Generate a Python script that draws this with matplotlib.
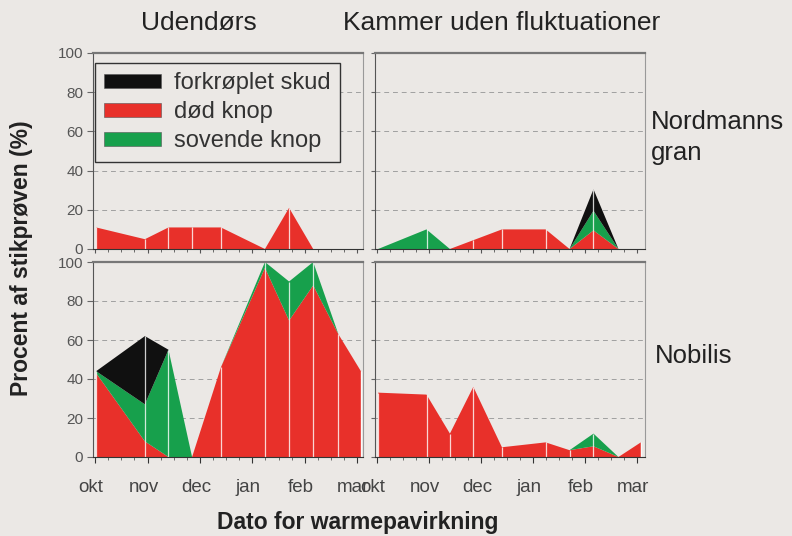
import matplotlib
matplotlib.use("Agg")
import matplotlib.pyplot as plt
from matplotlib.patches import Patch
from matplotlib.ticker import MultipleLocator
from matplotlib.transforms import ScaledTranslation
import numpy as np

# dato for varmepåvirkning, i måneder efter 1. oktober
dates = [0.02, 0.95, 1.40, 1.85, 2.40, 3.24, 3.70, 4.16, 4.64, 5.07]
months = ["okt", "nov", "dec", "jan", "feb", "mar"]

# Udendørs, Nordmannsgran
ude_nord_dod = [11, 5, 11, 11, 11, 0, 21, 0, 0, 0]
ude_nord_sov = [0, 0, 0, 0, 0, 0, 0, 0, 0, 0]
ude_nord_fork = [0, 0, 0, 0, 0, 0, 0, 0, 0, 0]
# Udendørs, Nobilis
ude_nob_dod = [43, 8, 0, 0, 46, 97, 70, 88, 63, 44]
ude_nob_sov = [1, 19, 55, 0, 0, 3, 20, 12, 0, 0]
ude_nob_fork = [0, 35, 0, 0, 0, 0, 0, 0, 0, 0]
# Kammer uden fluktuationer, Nordmannsgran
kam_nord_dod = [0, 0, 0, 4.5, 10, 10, 0, 9.5, 0, 0]
kam_nord_sov = [0, 10, 0, 0, 0, 0, 0, 10, 0, 0]
kam_nord_fork = [0, 0, 0, 0, 0, 0, 0, 11, 0, 0]
# Kammer uden fluktuationer, Nobilis
kam_nob_dod = [33, 32, 12, 36, 5, 7.5, 3.5, 5.5, 0, 7.5]
kam_nob_sov = [0, 0, 0, 0, 0, 0, 0, 6.5, 0, 0]
kam_nob_fork = [0, 0, 0, 0, 0, 0, 0, 0, 0, 0]

red = "#e8302a"
green = "#17a04c"
black = "#101010"
bg = "#ebe8e5"

plt.rcParams["font.family"] = ["Liberation Sans", "DejaVu Sans"]

fig = plt.figure(figsize=(7.92, 5.36), dpi=100, facecolor=bg)
shift = ScaledTranslation(-4 / 100, 0, fig.dpi_scale_trans)

def panel(rect, xmax, dod, sov, fork, ylabels, xlabels):
    ax = fig.add_axes(rect, facecolor=bg)
    ax.stackplot(dates, dod, sov, fork, colors=[red, green, black],
                 edgecolor="none")
    tot = np.array(dod) + np.array(sov) + np.array(fork)
    ax.vlines(dates, 0, tot, colors="white", lw=0.9, alpha=0.8)
    ax.set_xlim(-0.04, xmax)
    ax.set_ylim(0, 100)
    ax.set_yticks([0, 20, 40, 60, 80, 100])
    ax.set_xticks(range(len(months)))
    ax.xaxis.set_minor_locator(MultipleLocator(0.25))
    for y in [20, 40, 60, 80]:
        ax.axhline(y, color="#a0a0a0", lw=0.7, ls=(0, (5, 4)), zorder=0)
    if ylabels:
        ax.tick_params(axis="y", labelsize=11, length=4, pad=3,
                       colors="#666666", labelcolor="#555555")
    else:
        ax.tick_params(axis="y", labelleft=False, length=3, colors="#666666")
    if xlabels:
        ax.set_xticklabels(months)
        ax.tick_params(axis="x", labelsize=13.5, length=4, pad=12,
                       colors="#333333", labelcolor="#444444")
        for lab in ax.get_xticklabels():
            lab.set_transform(lab.get_transform() + shift)
    else:
        ax.tick_params(axis="x", labelbottom=False, length=3, colors="#555555")
    ax.tick_params(axis="x", which="minor", length=2, colors="#555555")
    ax.spines["top"].set_color("#777777")
    ax.spines["top"].set_linewidth(1.6)
    ax.spines["right"].set_color("#999999")
    ax.spines["left"].set_color("#555555")
    ax.spines["bottom"].set_color("#333333")
    for s in ax.spines.values():
        s.set_zorder(3)
    return ax

lw_ = 270 / 792
ax1 = panel([93 / 792, 1 - 249 / 536, lw_, 196 / 536], 5.11,
            ude_nord_dod, ude_nord_sov, ude_nord_fork, True, False)
ax2 = panel([375 / 792, 1 - 249 / 536, lw_, 196 / 536], 5.15,
            kam_nord_dod, kam_nord_sov, kam_nord_fork, False, False)
ax3 = panel([93 / 792, 1 - 457 / 536, lw_, 195 / 536], 5.11,
            ude_nob_dod, ude_nob_sov, ude_nob_fork, True, True)
ax4 = panel([375 / 792, 1 - 457 / 536, lw_, 195 / 536], 5.15,
            kam_nob_dod, kam_nob_sov, kam_nob_fork, False, True)

handles = [Patch(facecolor=black, edgecolor="#555555", lw=0.4),
           Patch(facecolor=red, edgecolor="#555555", lw=0.4),
           Patch(facecolor=green, edgecolor="#555555", lw=0.4)]
leg = ax1.legend(handles, ["forkrøplet skud", "død knop", "sovende knop"],
                 loc="upper left", bbox_to_anchor=(0.007, 0.95), borderaxespad=0,
                 fontsize=17, handlelength=2.4, handleheight=0.55, handletextpad=0.55,
                 labelspacing=0.3, borderpad=0.4, fancybox=False,
                 framealpha=1, facecolor=bg, edgecolor="#333333")
leg.get_frame().set_linewidth(1.0)
for t in leg.get_texts():
    t.set_color("#333333")

fig.text(199 / 792, 1 - 23 / 536, "Udendørs", ha="center", va="center", fontsize=19, color="#222222")
fig.text(502 / 792, 1 - 23 / 536, "Kammer uden fluktuationer", ha="center", va="center",
         fontsize=19, color="#222222")
fig.text(651 / 792, 1 - 122 / 536, "Nordmanns", ha="left", va="center", fontsize=18.5, color="#222222")
fig.text(651 / 792, 1 - 153 / 536, "gran", ha="left", va="center", fontsize=18.5, color="#222222")
fig.text(655 / 792, 1 - 356 / 536, "Nobilis", ha="left", va="center", fontsize=18.5, color="#222222")
fig.text(22 / 792, 1 - 258 / 536, "Procent af stikprøven (%)", rotation=90, ha="center", va="center",
         fontsize=16.5, fontweight="bold", color="#222222")
fig.text(358 / 792, 1 - 522 / 536, "Dato for warmepavirkning", ha="center", va="center",
         fontsize=16.5, fontweight="bold", color="#222222")

fig.savefig("out.png", dpi=100, facecolor=bg)
